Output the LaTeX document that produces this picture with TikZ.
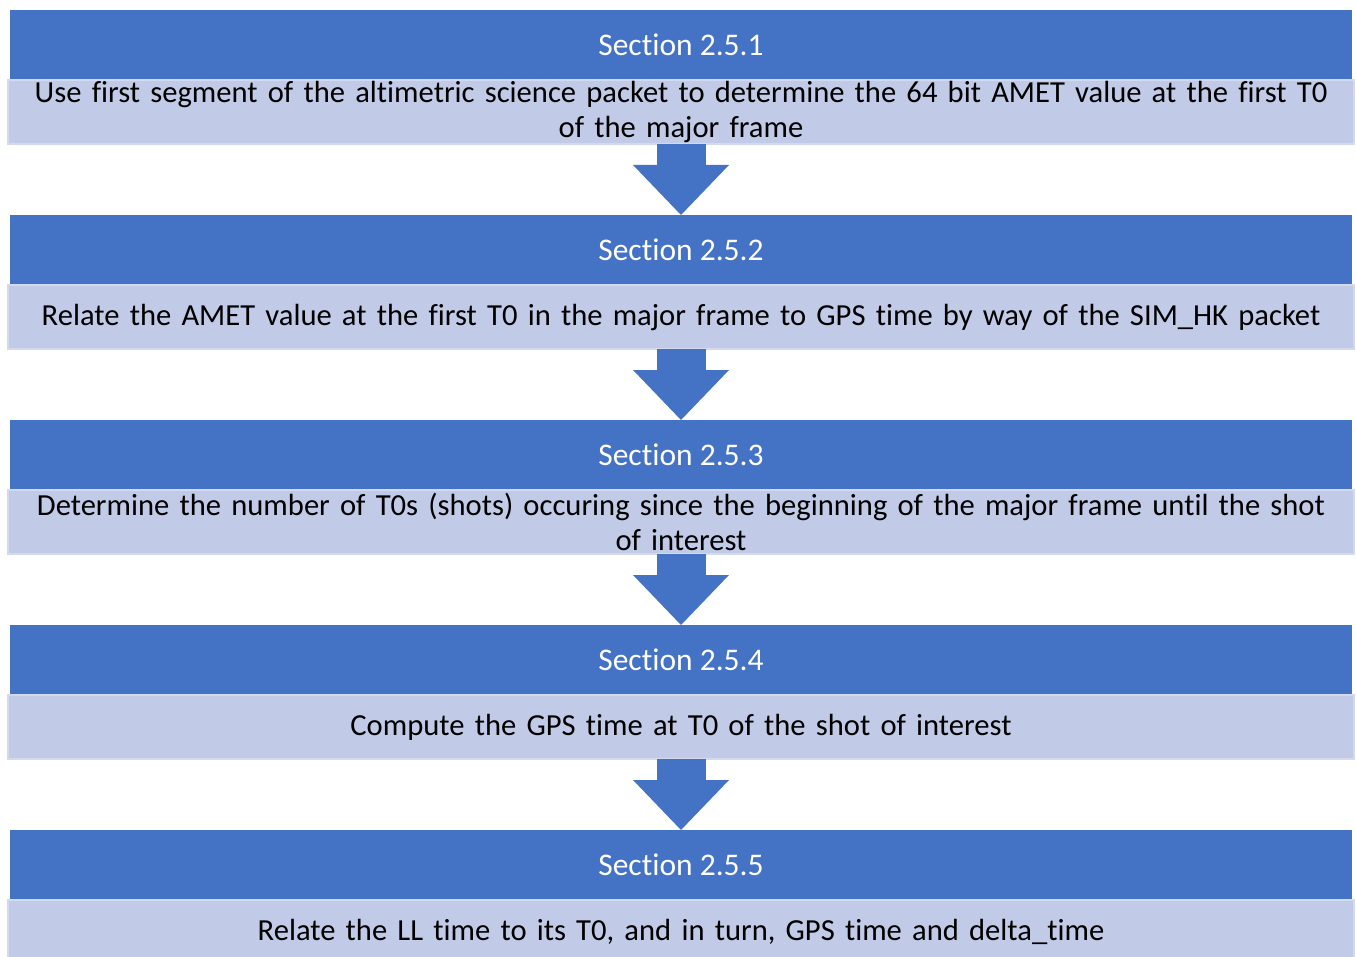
\documentclass[tikz,border=0pt]{standalone}
\usepackage{fontspec}
\setmainfont{Carlito}[Ligatures=NoCommon]
\usetikzlibrary{arrows.meta,positioning}
\definecolor{headblue}{HTML}{4472C4}
\definecolor{paleblue}{HTML}{C1CAE6}
\definecolor{rimblue}{HTML}{D3DAEE}

\begin{document}
\begin{tikzpicture}[x=1pt,y=1pt,
  header/.style={fill=headblue,minimum width=1342pt,minimum height=70pt,inner sep=0pt,outer sep=0pt,text=white,font=\fontsize{31.5}{36}\selectfont},
  body/.style={fill=paleblue,draw=rimblue,line width=1.5pt,minimum width=1346pt,minimum height=64pt,text width=1346pt,align=center,inner sep=0pt,outer sep=0pt,font=\fontsize{30.6}{35}\selectfont},
  flow/.style={-{Triangle[length=50pt,width=96pt,line width=0pt]},line width=49pt,draw=headblue},
  node distance=71pt
]
\useasboundingbox (0,0) rectangle (1356,-957);
\node[header] (sec1) at (681,-45) {Section 2.5.1};
\node[body,below=0pt of sec1] (step1) {Use first segment of the altimetric science packet to determine the 64 bit AMET value at the first T0\\of the major frame};
\node[header,below=of step1] (sec2) {Section 2.5.2};
\node[body,below=0pt of sec2] (step2) {Relate the AMET value at the first T0 in the major frame to GPS time by way of the SIM\_HK packet};
\node[header,below=of step2] (sec3) {Section 2.5.3};
\node[body,below=0pt of sec3] (step3) {Determine the number of T0s (shots) occuring since the beginning of the major frame until the shot\\of interest};
\node[header,below=of step3] (sec4) {Section 2.5.4};
\node[body,below=0pt of sec4] (step4) {Compute the GPS time at T0 of the shot of interest};
\node[header,below=of step4] (sec5) {Section 2.5.5};
\node[body,below=0pt of sec5] (step5) {Relate the LL time to its T0, and in turn, GPS time and delta\_time};
\draw[flow] (step1.south) -- (sec2.north);
\draw[flow] (step2.south) -- (sec3.north);
\draw[flow] (step3.south) -- (sec4.north);
\draw[flow] (step4.south) -- (sec5.north);
\end{tikzpicture}
\end{document}
